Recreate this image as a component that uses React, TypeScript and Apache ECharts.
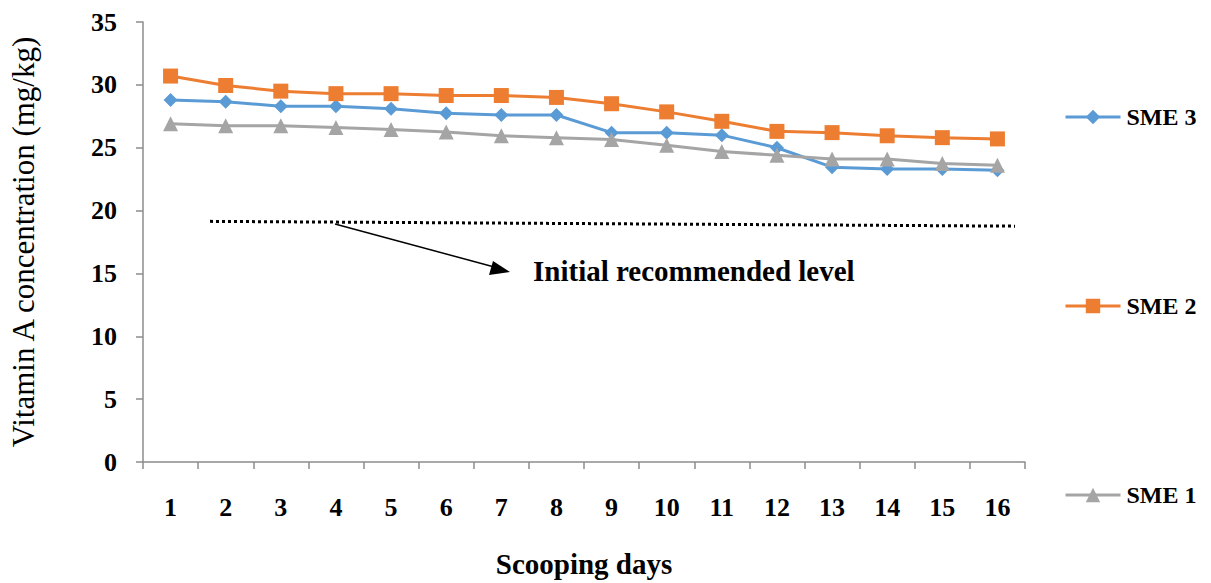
import React, { useEffect, useRef } from "react";
import * as echarts from "echarts";

const days = ["1", "2", "3", "4", "5", "6", "7", "8", "9", "10", "11", "12", "13", "14", "15", "16"];
const sme3 = [28.8, 28.65, 28.3, 28.3, 28.1, 27.75, 27.6, 27.6, 26.2, 26.2, 26.0, 25.0, 23.45, 23.3, 23.3, 23.2];
const sme2 = [30.7, 29.95, 29.5, 29.3, 29.3, 29.15, 29.15, 29.0, 28.5, 27.85, 27.1, 26.3, 26.2, 25.95, 25.8, 25.7];
const sme1 = [26.9, 26.75, 26.75, 26.6, 26.45, 26.25, 25.95, 25.8, 25.65, 25.2, 24.7, 24.4, 24.1, 24.1, 23.75, 23.6];
const recommendedStart = 19.3;
const recommendedEnd = 19.0;
const annotationText = "Initial recommended level";

const FONT = "'Liberation Serif', 'Times New Roman', serif";
const AXIS_GRAY = "#8c8c8c";

export default function App() {
  const ref = useRef<HTMLDivElement>(null);
  useEffect(() => {
    if (!ref.current) return;
    const chart = echarts.init(ref.current, undefined, { renderer: "svg" });
    const mk = (name: string, data: number[], color: string, symbol: string, size: number) => ({
      name,
      type: "line",
      data,
      symbol,
      symbolSize: size,
      itemStyle: { color },
      lineStyle: { color, width: 3 },
    });
    chart.setOption({
      animation: false,
      grid: { left: 143, right: 186, top: 22, bottom: 116 },
      legend: {
        orient: "vertical",
        left: 1059,
        top: 100,
        itemGap: 165,
        itemWidth: 55,
        itemHeight: 18,
        lineStyle: { width: 3 },
        data: ["SME 3", "SME 2", "SME 1"],
        textStyle: { fontFamily: FONT, fontWeight: "bold", fontSize: 24, lineHeight: 24, color: "#000", padding: [0, 0, 0, 1] },
      },
      xAxis: {
        type: "category",
        data: days,
        boundaryGap: true,
        name: "Scooping days",
        nameLocation: "middle",
        nameGap: 87,
        nameTextStyle: { fontFamily: FONT, fontWeight: "bold", fontSize: 29, color: "#000" },
        axisLine: { lineStyle: { color: AXIS_GRAY, width: 1.5 } },
        axisTick: { show: true, length: 7, alignWithLabel: false, lineStyle: { color: AXIS_GRAY, width: 1.5 } },
        axisLabel: { fontFamily: FONT, fontWeight: "bold", fontSize: 26, color: "#000", margin: 32 },
      },
      yAxis: {
        type: "value",
        min: 0,
        max: 35,
        interval: 5,
        name: "Vitamin A concentration (mg/kg)",
        nameLocation: "middle",
        nameGap: 104,
        nameTextStyle: { fontFamily: FONT, fontSize: 31, color: "#000" },
        axisLine: { show: true, lineStyle: { color: AXIS_GRAY, width: 1.5 } },
        axisTick: { show: true, length: 7, lineStyle: { color: AXIS_GRAY, width: 1.5 } },
        splitLine: { show: false },
        axisLabel: { fontFamily: FONT, fontWeight: "bold", fontSize: 26, color: "#000", margin: 26 },
      },
      series: [
        mk("SME 3", sme3, "#5B9BD5", "diamond", 14),
        mk("SME 2", sme2, "#ED7D31", "rect", 15),
        mk("SME 1", sme1, "#A5A5A5", "triangle", 15),
      ],
    });
    const y1 = chart.convertToPixel({ yAxisIndex: 0 }, recommendedStart) as number;
    const y2 = chart.convertToPixel({ yAxisIndex: 0 }, recommendedEnd) as number;
    const x1 = 210;
    const x2 = 1015;
    const ay1 = y1 + (y2 - y1) * ((335 - x1) / (x2 - x1));
    chart.setOption({
      graphic: [
        {
          type: "line",
          shape: { x1, y1: y1 + 2, x2, y2: y2 + 3 },
          style: { stroke: "#000", lineWidth: 3, lineDash: [3, 3] },
        },
        {
          type: "line",
          shape: { x1: 335, y1: ay1 + 4, x2: 498, y2: 268 },
          style: { stroke: "#000", lineWidth: 1.5 },
        },
        {
          type: "polygon",
          shape: { points: [[510, 272], [493, 261], [489, 275]] },
          style: { fill: "#000" },
        },
        {
          type: "text",
          x: 533,
          y: 271,
          style: {
            text: annotationText,
            font: `bold 29px ${FONT}`,
            fill: "#000",
            verticalAlign: "middle",
            align: "left",
          },
        },
      ],
    });
    return () => chart.dispose();
  }, []);
  return <div ref={ref} style={{ width: 1211, height: 583, position: "absolute", left: 0, top: 0 }} />;
}
